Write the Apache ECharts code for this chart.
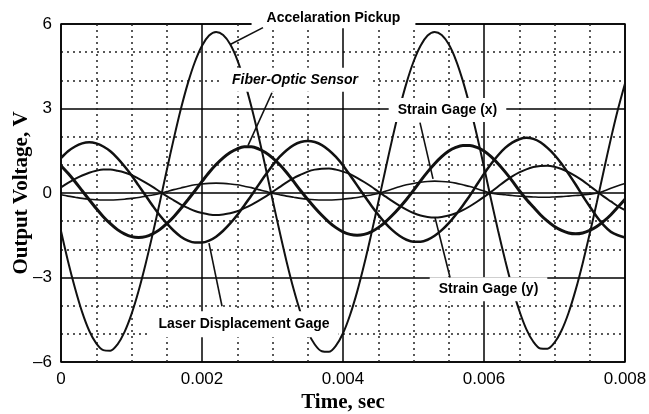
<!DOCTYPE html>
<html>
<head>
<meta charset="utf-8">
<script src="https://cdn.jsdelivr.net/npm/echarts@6/dist/echarts.min.js"></script>
<style>
  html, body { margin: 0; padding: 0; background: #fff; }
  #chart { width: 649px; height: 414px; }
</style>
</head>
<body>
<div id="chart"></div>
<script>
// Sampling interval of the recorded signals (s)
const timeStep = 0.0001;

// Axis ticks
const xTicks = [0, 0.002, 0.004, 0.006, 0.008];
const yTicks = [-6, -3, 0, 3, 6];

// Output voltages (V), one sample every 0.1 ms from 0 to 8 ms
const accelerationPickup = [
  -1.35, -2.43, -3.39, -4.23, -4.89, -5.34, -5.58, -5.60, -5.38, -4.94, -4.30, -3.48, -2.52, -1.46, -0.35,
  0.81, 1.93, 2.98, 3.90, 4.66, 5.23, 5.59, 5.72, 5.61, 5.28, 4.73, 3.98, 3.07, 2.04, 0.92,
  -0.23, -1.36, -2.44, -3.42, -4.26, -4.92, -5.38, -5.62, -5.64, -5.42, -4.98, -4.33, -3.51, -2.54, -1.47, -0.34,
  0.81, 1.93, 2.98, 3.90, 4.66, 5.23, 5.59, 5.72, 5.61, 5.28, 4.73, 3.98, 3.07, 2.04, 0.92,
  -0.23, -1.34, -2.39, -3.35, -4.17, -4.83, -5.28, -5.52, -5.53, -5.31, -4.88, -4.25, -3.44, -2.49, -1.44, -0.34,
  0.81, 1.93, 2.97, 3.89
];
const fiberOpticSensor = [
  0.97, 0.70, 0.40, 0.08, -0.24, -0.55, -0.84, -1.09, -1.30, -1.45, -1.55,
  -1.58, -1.55, -1.45, -1.30, -1.09, -0.84, -0.55, -0.24,
  0.08, 0.41, 0.73, 1.01, 1.25, 1.44, 1.57, 1.64, 1.64, 1.57, 1.44, 1.25, 1.01, 0.73, 0.41, 0.08,
  -0.23, -0.52, -0.79, -1.03, -1.23, -1.38, -1.47, -1.50, -1.47, -1.38, -1.23, -1.03, -0.79, -0.52, -0.23,
  0.09, 0.43, 0.75, 1.04, 1.29, 1.49, 1.62, 1.69, 1.69, 1.62, 1.49, 1.29, 1.04, 0.75, 0.43, 0.09,
  -0.22, -0.50, -0.77, -1.00, -1.19, -1.33, -1.42, -1.45, -1.42, -1.33, -1.19, -1.00, -0.77, -0.50, -0.22
];
const laserDisplacementGage = [
  1.24, 1.48, 1.65, 1.76, 1.80, 1.76, 1.65, 1.48, 1.24, 0.95, 0.63, 0.27, -0.09, -0.45, -0.79,
  -1.08, -1.34, -1.55, -1.69, -1.76, -1.76, -1.69, -1.55, -1.34, -1.08, -0.78, -0.44, -0.09,
  0.28, 0.64, 0.98, 1.28, 1.52, 1.70, 1.81, 1.85, 1.81, 1.70, 1.52, 1.28, 0.98, 0.63, 0.27,
  -0.09, -0.44, -0.77, -1.07, -1.32, -1.52, -1.66, -1.73, -1.73, -1.66, -1.52, -1.32, -1.07, -0.77, -0.44, -0.09,
  0.30, 0.68, 1.03, 1.34, 1.60, 1.79, 1.91, 1.96, 1.92, 1.80, 1.60, 1.35, 1.04, 0.68, 0.30,
  -0.10, -0.48, -0.84, -1.15, -1.38, -1.50, -1.58
];
const strainGageY = [
  0.20, 0.36, 0.50, 0.62, 0.72, 0.79, 0.83, 0.83, 0.79, 0.73, 0.64, 0.51, 0.37, 0.22, 0.05,
  -0.11, -0.26, -0.41, -0.53, -0.64, -0.71, -0.76, -0.78, -0.76, -0.72, -0.65, -0.54, -0.42, -0.28, -0.13,
  0.04, 0.21, 0.38, 0.53, 0.65, 0.76, 0.83, 0.86, 0.87, 0.83, 0.76, 0.67, 0.54, 0.39, 0.23, 0.05,
  -0.12, -0.29, -0.45, -0.59, -0.71, -0.80, -0.85, -0.87, -0.85, -0.80, -0.72, -0.61, -0.47, -0.31, -0.14,
  0.04, 0.23, 0.42, 0.59, 0.73, 0.84, 0.92, 0.96, 0.97, 0.93, 0.85, 0.74, 0.60, 0.44, 0.25, 0.06,
  -0.13, -0.30, -0.47, -0.61
];
const strainGageX = [
  -0.06, -0.11, -0.15, -0.19, -0.22, -0.24, -0.25, -0.25, -0.24, -0.22, -0.19, -0.16, -0.11, -0.07, -0.02,
  0.05, 0.12, 0.18, 0.24, 0.29, 0.32, 0.34, 0.35, 0.34, 0.32, 0.29, 0.24, 0.19, 0.12, 0.06,
  -0.01, -0.06, -0.11, -0.15, -0.19, -0.22, -0.24, -0.25, -0.25, -0.24, -0.22, -0.19, -0.16, -0.11, -0.07, -0.02,
  0.06, 0.14, 0.22, 0.29, 0.34, 0.38, 0.41, 0.42, 0.41, 0.39, 0.35, 0.29, 0.23, 0.15, 0.07,
  -0.01, -0.04, -0.06, -0.09, -0.11, -0.13, -0.14, -0.15, -0.15, -0.14, -0.13, -0.11, -0.09, -0.07, -0.04, -0.01,
  0.07, 0.17, 0.26, 0.34
];

// Callout labels: text, label centre and leader line in data coordinates [t, V]
const callouts = [
  { text: 'Accelaration Pickup', at: [0.003865, 6.2], pad: [3, 15], leader: [[0.002865, 5.87], [0.00240, 5.27]] },
  { text: 'Fiber-Optic Sensor', at: [0.003319, 4.02], pad: [5, 12], italic: true, leader: [[0.002993, 3.56], [0.002652, 1.68]] },
  { text: 'Strain Gage (x)', at: [0.005482, 2.95], pad: [5, 9], leader: [[0.005092, 2.50], [0.005277, 0.50]] },
  { text: 'Strain Gage (y)', at: [0.006064, -3.42], pad: [5, 9], leader: [[0.005518, -3.0], [0.005305, -0.87]] },
  { text: 'Laser Displacement Gage', at: [0.002596, -4.66], pad: [6, 9], leader: [[0.002284, -4.02], [0.002099, -1.78]] }
];

const INK = '#111';
const sansFont = 'Liberation Sans, Arial, sans-serif';
const serifFont = 'Liberation Serif, Times New Roman, serif';

function toPairs(values) {
  return values.map((v, i) => [Math.round(i * timeStep * 1e5) / 1e5, v]);
}

function lineSeries(name, values, width) {
  return {
    name: name,
    type: 'line',
    data: toPairs(values),
    showSymbol: false,
    smooth: 0.3,
    silent: true,
    z: 3,
    lineStyle: { color: INK, width: width }
  };
}

const chart = echarts.init(document.getElementById('chart'), null, { renderer: 'canvas' });

chart.setOption({
  animation: false,
  backgroundColor: '#fff',
  grid: {
    left: 61, right: 24, top: 24, bottom: 52,
    outerBoundsMode: 'none', containLabel: false,
    show: true, borderColor: '#000', borderWidth: 1.5, backgroundColor: '#fff'
  },
  xAxis: {
    type: 'value',
    min: xTicks[0], max: xTicks[xTicks.length - 1], interval: xTicks[1] - xTicks[0],
    name: 'Time, sec', nameLocation: 'middle', nameGap: 30, nameMoveOverlap: false,
    nameTextStyle: { fontFamily: serifFont, fontSize: 21, fontWeight: 'bold', color: '#000' },
    axisLine: { show: false },
    axisTick: { show: false },
    axisLabel: {
      margin: 9, color: '#000', fontFamily: sansFont, fontSize: 17,
      showMinLabel: true, showMaxLabel: true,
      formatter: v => (v === 0 ? '0' : v.toFixed(3))
    },
    splitLine: { show: true, lineStyle: { color: '#000', width: 1.5 } },
    minorTick: { show: false, splitNumber: 4 },
    minorSplitLine: { show: true, lineStyle: { color: '#222', width: 1.5, type: [2, 4] } }
  },
  yAxis: {
    type: 'value',
    min: yTicks[0], max: yTicks[yTicks.length - 1], interval: yTicks[1] - yTicks[0],
    name: 'Output Voltage, V', nameLocation: 'middle', nameGap: 29, nameMoveOverlap: false,
    nameTextStyle: { fontFamily: serifFont, fontSize: 21, fontWeight: 'bold', color: '#000' },
    axisLine: { show: false },
    axisTick: { show: false },
    axisLabel: {
      margin: 9, color: '#000', fontFamily: sansFont, fontSize: 17,
      formatter: v => (v < 0 ? '\u2013' + Math.abs(v) : String(v))
    },
    splitLine: { show: true, lineStyle: { color: '#000', width: 1.5 } },
    minorTick: { show: false, splitNumber: 3 },
    minorSplitLine: { show: true, lineStyle: { color: '#222', width: 1.5, type: [2, 4] } }
  },
  series: [
    lineSeries('Accelaration Pickup', accelerationPickup, 2),
    lineSeries('Fiber-Optic Sensor', fiberOpticSensor, 3),
    lineSeries('Laser Displacement Gage', laserDisplacementGage, 2.5),
    lineSeries('Strain Gage (x)', strainGageX, 1.6),
    lineSeries('Strain Gage (y)', strainGageY, 2)
  ]
});

// Callouts placed through the chart's own coordinate system
function px(pt) { return chart.convertToPixel({ gridIndex: 0 }, pt); }

const graphics = [];
callouts.forEach(c => {
  const p = px(c.at);
  graphics.push({
    type: 'text', z: 20, silent: true,
    style: {
      text: c.text, x: p[0], y: p[1], align: 'center', verticalAlign: 'middle',
      font: (c.italic ? 'italic ' : '') + 'bold 14px ' + sansFont,
      fill: '#000', backgroundColor: '#fff', padding: c.pad
    }
  });
  const a = px(c.leader[0]);
  const b = px(c.leader[1]);
  graphics.push({
    type: 'line', z: 21, silent: true,
    shape: { x1: a[0], y1: a[1], x2: b[0], y2: b[1] },
    style: { stroke: INK, lineWidth: 1.6 }
  });
});
chart.setOption({ graphic: graphics });
</script>
</body>
</html>
